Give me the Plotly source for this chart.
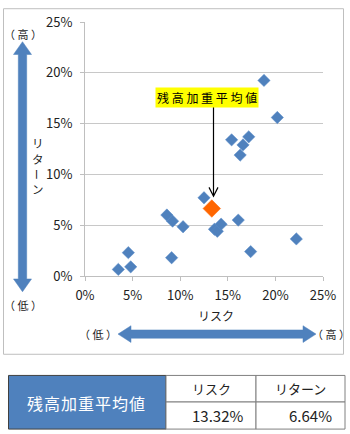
import plotly.graph_objects as go

# ---- data ----
risk = [3.5, 4.55, 4.8, 8.6, 9.2, 9.1, 10.3, 12.5, 13.6, 13.9, 14.3, 15.4, 16.1, 16.3, 16.6, 17.2, 17.4, 18.8, 20.2, 22.2]
ret = [0.65, 2.3, 0.9, 6.0, 5.4, 1.8, 4.85, 7.7, 4.6, 4.4, 5.1, 13.4, 5.5, 11.9, 12.9, 13.7, 2.4, 19.25, 15.6, 3.65]
avg_risk = [13.32]
avg_ret = [6.64]
ticks = [0, 5, 10, 15, 20, 25]
avg_label = "残高加重平均値"
col_labels = ["リスク", "リターン"]
col_values = ["13.32%", "6.64%"]

W, H = 350, 434
L, R, T, B = 85, 323, 18, 276
def px(x):
    return (x - L) / (R - L)
def py(y):
    return (B - y) / (B - T)

FONT = "Noto Sans CJK JP"
BLUE = "#4F81BD"
TXT = "#222222"

fig = go.Figure()
fig.add_trace(go.Scatter(x=risk, y=ret, mode="markers",
                         marker=dict(symbol="diamond", size=9.5, color=BLUE,
                                     line=dict(color="#5b8cc8", width=0.5)),
                         showlegend=False, hoverinfo="x+y"))
fig.add_trace(go.Scatter(x=avg_risk, y=avg_ret, mode="markers",
                         marker=dict(symbol="diamond", size=13.5, color="#FF6600",
                                     line=dict(color="#FF6600", width=0.5)),
                         showlegend=False, hoverinfo="x+y"))

fig.update_xaxes(range=[0, 25], tickvals=ticks, ticktext=[f"{t}%" for t in ticks],
                 showgrid=False, showline=True, linecolor="#BFBFBF", linewidth=1,
                 ticks="outside", ticklen=4, tickcolor="#BFBFBF", zeroline=False,
                 ticklabelstandoff=3,
                 tickfont=dict(family=FONT, size=13, color=TXT), fixedrange=True)
fig.update_yaxes(range=[0, 25], tickvals=ticks, ticktext=[f"{t}%" for t in ticks],
                 showgrid=True, gridcolor="#C8C8C8", gridwidth=1,
                 showline=True, linecolor="#BFBFBF", linewidth=1,
                 ticks="outside", ticklen=4, tickcolor="#BFBFBF", zeroline=False,
                 ticklabelstandoff=5,
                 tickfont=dict(family=FONT, size=13, color=TXT), fixedrange=True)

shapes = []
anns = []

# outer chart border
shapes.append(dict(type="rect", xref="paper", yref="paper",
                   x0=px(3.5), x1=px(343.5), y0=py(4.5), y1=py(355.5),
                   line=dict(color="#BFBFBF", width=1), fillcolor="rgba(0,0,0,0)", layer="below"))

# vertical double arrow
cx, top, bot = 22.5, 38, 292
sw, hw, hl = 4.2, 9, 13
path = (f"M {px(cx)},{py(top)} L {px(cx+hw)},{py(top+hl)} L {px(cx+sw)},{py(top+hl)} "
        f"L {px(cx+sw)},{py(bot-hl)} L {px(cx+hw)},{py(bot-hl)} L {px(cx)},{py(bot)} "
        f"L {px(cx-hw)},{py(bot-hl)} L {px(cx-sw)},{py(bot-hl)} L {px(cx-sw)},{py(top+hl)} "
        f"L {px(cx-hw)},{py(top+hl)} Z")
shapes.append(dict(type="path", xref="paper", yref="paper", path=path,
                   fillcolor=BLUE, line=dict(color=BLUE, width=0.5)))

# horizontal double arrow
cy, lft, rgt = 335, 118, 316
sh, hh, hl2 = 4.2, 8.5, 13
path = (f"M {px(lft)},{py(cy)} L {px(lft+hl2)},{py(cy-hh)} L {px(lft+hl2)},{py(cy-sh)} "
        f"L {px(rgt-hl2)},{py(cy-sh)} L {px(rgt-hl2)},{py(cy-hh)} L {px(rgt)},{py(cy)} "
        f"L {px(rgt-hl2)},{py(cy+hh)} L {px(rgt-hl2)},{py(cy+sh)} L {px(lft+hl2)},{py(cy+sh)} "
        f"L {px(lft+hl2)},{py(cy+hh)} Z")
shapes.append(dict(type="path", xref="paper", yref="paper", path=path,
                   fillcolor=BLUE, line=dict(color=BLUE, width=0.5)))

# pointer arrow to weighted average
ax_, y1, y2 = 213.5, 102, 195
shapes.append(dict(type="path", xref="paper", yref="paper",
                   path=f"M {px(ax_)},{py(y1)} L {px(ax_)},{py(y2)} M {px(ax_-4.5)},{py(y2-9)} L {px(ax_)},{py(y2)} L {px(ax_+4.5)},{py(y2-9)}",
                   line=dict(color="black", width=1.2)))

def ann(x, y, text, size=12, color=TXT, xanchor="center", **kw):
    anns.append(dict(xref="paper", yref="paper", x=px(x), y=py(y), text=text,
                     showarrow=False, xanchor=xanchor, yanchor="middle",
                     font=dict(family=FONT, size=size, color=color), **kw))

# yellow label
ann(207, 94.5, " ".join(avg_label), size=12, color="#000000", bgcolor="#FFFF00", borderpad=1)

# axis titles
ann(216, 316, col_labels[0], size=12)
for ch, yy in zip("リターン", [141, 157, 173, 188]):
    if ch == "ー":
        ann(37.5, yy, ch, size=11, textangle=90, borderpad=0)
    else:
        ann(37.5, yy, ch, size=11.5, borderpad=0)
ann(23, 30, "（ 高 ）", size=11)
ann(23, 305, "（ 低 ）", size=11)
ann(98, 335, "（ 低 ）", size=11)
ann(331, 335, "（ 高 ）", size=11)

# table
shapes.append(dict(type="rect", xref="paper", yref="paper", x0=px(8.5), x1=px(166), y0=py(377), y1=py(431.5),
                   fillcolor=BLUE, line=dict(color="#404040", width=1)))
for x0, x1 in [(166, 256), (256, 345)]:
    for y0, y1 in [(377, 404), (404, 431.5)]:
        shapes.append(dict(type="rect", xref="paper", yref="paper", x0=px(x0), x1=px(x1), y0=py(y0), y1=py(y1),
                           fillcolor="white", line=dict(color="#808080", width=1)))
ann(86, 405, "\u200a".join(avg_label), size=16, color="white")
ann(211, 390.5, col_labels[0], size=13)
ann(300, 390.5, col_labels[1], size=13)
ann(245, 418, col_values[0], size=15, xanchor="right")
ann(334, 418, col_values[1], size=15, xanchor="right")

fig.update_layout(width=W, height=H, margin=dict(l=L, r=W - R, t=T, b=H - B),
                  paper_bgcolor="white", plot_bgcolor="white",
                  shapes=shapes, annotations=anns, showlegend=False)

fig.write_html("out.html", config={"displayModeBar": False})
